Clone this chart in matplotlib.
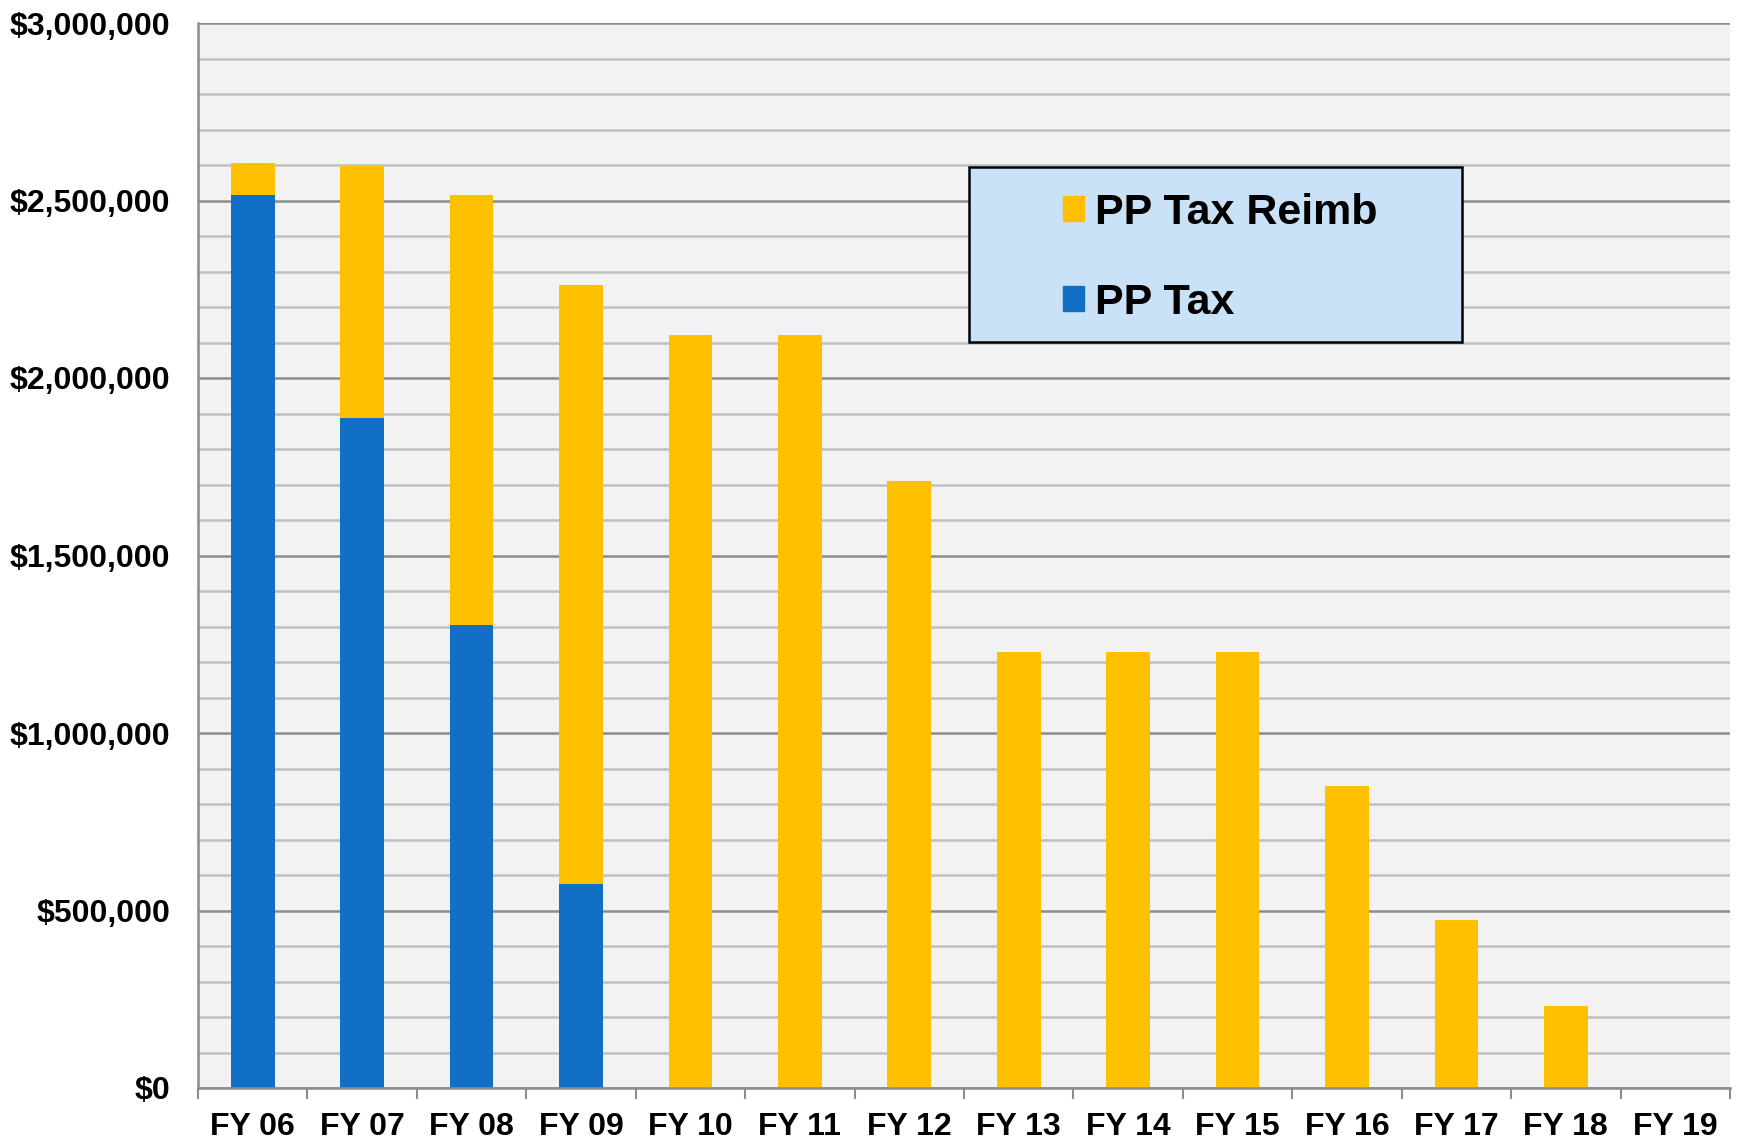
import matplotlib.pyplot as plt
import matplotlib.ticker as ticker
from matplotlib.patches import Patch, Rectangle
import numpy as np

plt.rcParams['font.family'] = ['Liberation Sans', 'DejaVu Sans']
plt.rcParams['font.weight'] = 'bold'

years = ["FY 06", "FY 07", "FY 08", "FY 09", "FY 10", "FY 11", "FY 12",
         "FY 13", "FY 14", "FY 15", "FY 16", "FY 17", "FY 18", "FY 19"]
pp_tax = [2515000, 1886000, 1304000, 576000, 0, 0, 0,
          0, 0, 0, 0, 0, 0, 0]
pp_tax_reimb = [91000, 710000, 1211000, 1685000, 2121000, 2121000, 1711000,
                1229000, 1229000, 1229000, 851000, 472000, 231000, 0]

blue = "#1170C6"
gold = "#FFC000"

fig = plt.figure(figsize=(17.41, 11.43), dpi=100)
ax = fig.add_axes([198 / 1741, 55 / 1143, 1532 / 1741, 1065 / 1143])
ax.set_facecolor("#F2F2F2")

x = np.arange(len(years))
ax.bar(x, pp_tax, width=0.4, color=blue, zorder=3)
ax.bar(x, pp_tax_reimb, width=0.4, bottom=pp_tax, color=gold, zorder=3)

ax.set_xlim(-0.5, len(years) - 0.5)
ax.set_ylim(0, 3000000)

ax.yaxis.set_major_locator(ticker.MultipleLocator(500000))
ax.yaxis.set_minor_locator(ticker.MultipleLocator(100000))
ax.yaxis.set_major_formatter(ticker.FuncFormatter(lambda v, p: "${:,.0f}".format(v)))
ax.grid(which="major", axis="y", color="#8C8C8C", linewidth=1.8, zorder=1)
ax.grid(which="minor", axis="y", color="#C0C0C0", linewidth=1.8, zorder=1)

ax.set_xticks(x)
ax.set_xticklabels(years)
ax.set_xticks(np.arange(len(years) + 1) - 0.5, minor=True)
ax.tick_params(axis="x", which="major", length=0, pad=17, labelsize=23)
ax.tick_params(axis="x", which="minor", length=8, width=1.5, color="#8C8C8C", direction="out")
ax.tick_params(axis="y", which="both", length=0, pad=20, labelsize=23)

for s in ["top", "right"]:
    ax.spines[s].set_visible(False)
for s in ["left", "bottom"]:
    ax.spines[s].set_color("#8C8C8C")
    ax.spines[s].set_linewidth(1.8)
    ax.spines[s].set_zorder(4)

# legend box
box = Rectangle((969 / 1741, 1 - 342 / 1143), 493 / 1741, 175 / 1143,
                transform=fig.transFigure, facecolor="#C9E2F8", edgecolor="black",
                linewidth=1.8, zorder=5)
fig.patches.append(box)
handles = [Patch(color=gold, label="PP Tax Reimb"), Patch(color=blue, label="PP Tax")]
leg = fig.legend(handles=handles, loc="upper left", frameon=False,
                 bbox_to_anchor=(1041 / 1741, 1 - 171 / 1143),
                 fontsize=31, handlelength=0.5, handleheight=0.5,
                 handletextpad=0.25, labelspacing=1.17, borderpad=0)
leg.set_zorder(6)

plt.savefig("out.png", dpi=100)
